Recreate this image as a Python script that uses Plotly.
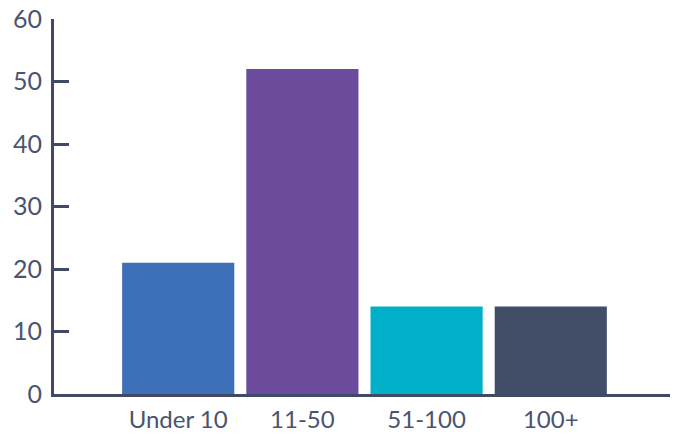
import plotly.graph_objects as go

categories = ["Under 10", "11-50", "51-100", "100+"]
values = [21, 52, 14, 14]
colors = ["#3d70b8", "#6a4b9c", "#00b0c8", "#424d68"]
y_ticks = [0, 10, 20, 30, 40, 50, 60]

axis_color = "#404a66"

fig = go.Figure(go.Bar(x=categories, y=values, marker=dict(color=colors, line=dict(width=0))))

fig.update_layout(
    width=680, height=435,
    margin=dict(l=54, r=10, t=19, b=41),
    paper_bgcolor="white", plot_bgcolor="white",
    bargap=0.097,
    showlegend=False,
    font=dict(family="Lato", color="#4a5470"),
)
fig.update_xaxes(
    type="category", range=[-1, 3.96], automargin=False,
    showline=True, linecolor=axis_color, linewidth=3,
    showgrid=False, ticks="", tickfont=dict(size=24),
    ticklabelstandoff=2,
)
fig.update_yaxes(
    range=[0, 60], tickvals=y_ticks, automargin=False,
    showline=True, linecolor=axis_color, linewidth=3,
    showgrid=False, zeroline=False,
    ticks="inside", ticklen=15, tickwidth=3, tickcolor=axis_color,
    tickfont=dict(size=25), ticklabelstandoff=4,
)
fig.write_html("out.html")
